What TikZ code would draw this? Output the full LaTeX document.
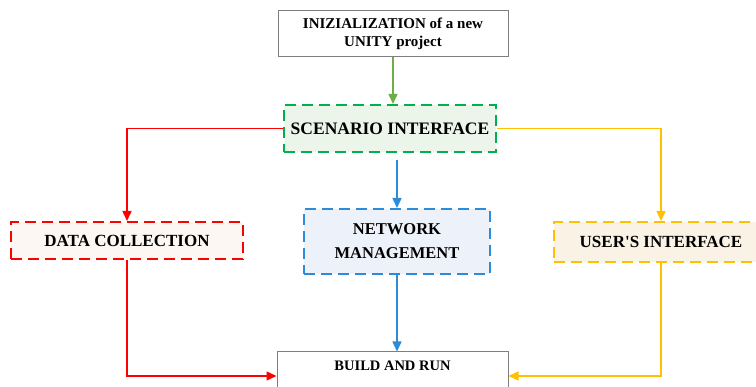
\documentclass[tikz,border=0pt]{standalone}
\usepackage{fontspec}
\setmainfont{Liberation Serif}
\usetikzlibrary{arrows.meta}

\definecolor{framegray}{HTML}{7F7F7F}
\definecolor{scengreen}{HTML}{00B050}
\definecolor{arrowgreen}{HTML}{70AD47}
\definecolor{datared}{HTML}{FF0000}
\definecolor{netblue}{HTML}{2E8BD8}
\definecolor{useryellow}{HTML}{FFC000}
\definecolor{scenfill}{HTML}{EBF5EA}
\definecolor{datafill}{HTML}{FDF7F4}
\definecolor{netfill}{HTML}{EDF1FA}
\definecolor{userfill}{HTML}{FBF2E6}

\begin{document}
\begin{tikzpicture}[x=1pt,y=-1pt,
    plainbox/.style={draw=framegray, line width=1pt, inner sep=0pt, align=center},
    dashbox/.style={line width=2pt, dash pattern=on 11pt off 6pt, inner sep=0pt, align=center,
        font=\bfseries\fontsize{17}{24}\selectfont},
    link/.style={line width=1.5pt, -{Triangle[length=10pt,width=9pt]}}]
    \useasboundingbox (0,0) rectangle (756,387);

    % boxes
    \node[plainbox, minimum width=230, minimum height=46,
        font=\bfseries\fontsize{15}{18}\selectfont] (init) at (393,34)
        {INIZIALIZATION of a new\\UNITY project};
    \node[dashbox, draw=scengreen, fill=scenfill, minimum width=212, minimum height=47,
        font=\bfseries\fontsize{17.5}{24}\selectfont] (scen) at (390,128.5)
        {SCENARIO INTERFACE};
    \node[dashbox, draw=datared, fill=datafill, minimum width=232, minimum height=37] (data) at (127,240.5)
        {DATA COLLECTION};
    \node[dashbox, draw=netblue, fill=netfill, minimum width=186, minimum height=65,
        font=\bfseries\fontsize{16.5}{24}\selectfont] (net) at (397,241.5)
        {NETWORK\\MANAGEMENT};
    \node[dashbox, draw=useryellow, fill=userfill, minimum width=214, minimum height=40] (user) at (661,242)
        {USER\textquotesingle S INTERFACE};
    \node[plainbox, minimum width=231, minimum height=48,
        label={[anchor=north, yshift=-6pt, font=\bfseries\fontsize{14.5}{16}\selectfont]north:BUILD AND RUN}]
        (build) at (392.5,376) {};
    \coordinate (split) at (397,160);

    % connectors
    \draw[link, arrowgreen] (init.south) -- (init.south |- scen.north);
    \draw[link, datared] (scen.west) -| (data.north);
    \draw[link, useryellow] (scen.east) -| (user.north);
    \draw[link, netblue] (split) -- (split |- net.north);
    \draw[link, datared] (data.south) |- (build.west);
    \draw[link, netblue] (net.south) -- (net.south |- build.north);
    \draw[link, useryellow] (user.south) |- (build.east);
\end{tikzpicture}
\end{document}
